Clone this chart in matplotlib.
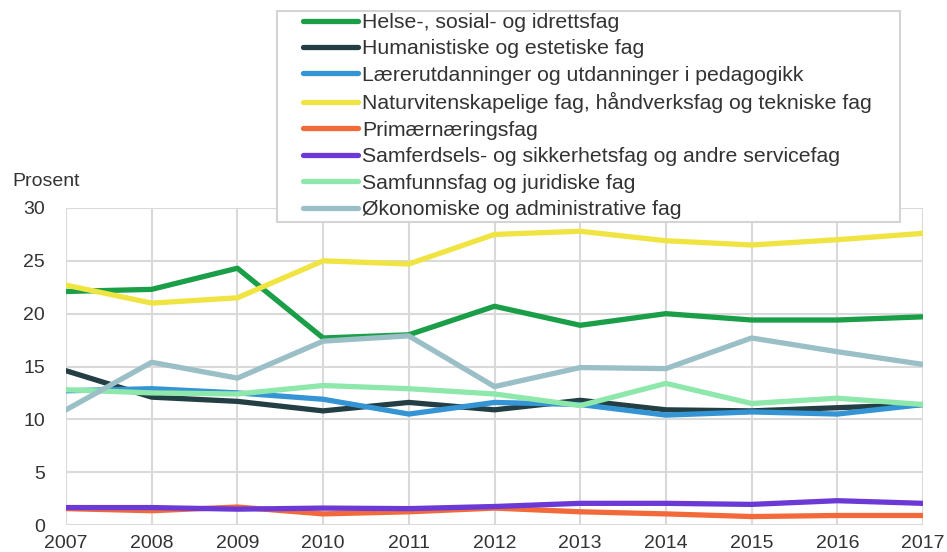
import matplotlib.pyplot as plt
from matplotlib.patches import Rectangle

plt.rcParams['font.family'] = ['Liberation Sans', 'DejaVu Sans']

years = [2007, 2008, 2009, 2010, 2011, 2012, 2013, 2014, 2015, 2016, 2017]

helse = [22.1, 22.3, 24.3, 17.7, 18.0, 20.7, 18.9, 20.0, 19.4, 19.4, 19.7]
humanistiske = [14.6, 12.1, 11.7, 10.8, 11.6, 10.9, 11.8, 10.9, 10.8, 11.1, 11.4]
laerer = [12.7, 12.9, 12.5, 11.9, 10.5, 11.6, 11.4, 10.4, 10.7, 10.5, 11.4]
naturvit = [22.7, 21.0, 21.5, 25.0, 24.7, 27.5, 27.8, 26.9, 26.5, 27.0, 27.6]
primaer = [1.55, 1.35, 1.7, 1.05, 1.25, 1.6, 1.25, 1.05, 0.8, 0.9, 0.9]
samferdsel = [1.65, 1.65, 1.5, 1.6, 1.55, 1.75, 2.05, 2.05, 1.95, 2.3, 2.05]
samfunn = [12.8, 12.5, 12.4, 13.2, 12.9, 12.4, 11.3, 13.4, 11.5, 12.0, 11.4]
okonomi = [10.9, 15.4, 13.9, 17.4, 17.9, 13.1, 14.9, 14.8, 17.7, 16.4, 15.2]

series = [
    ("Helse-, sosial- og idrettsfag", helse, "#1a9e48"),
    ("Humanistiske og estetiske fag", humanistiske, "#233f44"),
    ("Lærerutdanninger og utdanninger i pedagogikk", laerer, "#3494d4"),
    ("Naturvitenskapelige fag, håndverksfag og tekniske fag", naturvit, "#f0e442"),
    ("Primærnæringsfag", primaer, "#f26a3a"),
    ("Samferdsels- og sikkerhetsfag og andre servicefag", samferdsel, "#6b3ad6"),
    ("Samfunnsfag og juridiske fag", samfunn, "#8ee8ac"),
    ("Økonomiske og administrative fag", okonomi, "#9abfc6"),
]

W, H = 947, 552
fig = plt.figure(figsize=(W / 100, H / 100), dpi=100)
ax = fig.add_axes([66 / W, 27 / H, 857 / W, 317 / H])

for label, vals, col in series:
    ax.plot(years, vals, color=col, lw=3.8, label=label, solid_capstyle='round')

ax.set_xlim(2007, 2017)
ax.set_ylim(0, 30)
ax.set_xticks(years)
ax.set_yticks([0, 5, 10, 15, 20, 25, 30])
ax.grid(True, color="#d9d9d9", lw=1.5)
ax.set_axisbelow(True)
for s in ax.spines.values():
    s.set_visible(False)
ax.tick_params(length=0, labelsize=14, colors="#333333")
ax.tick_params(axis='x', pad=7)
ax.tick_params(axis='y', pad=15)

fig.text(12 / W, 1 - 181 / H, "Prosent", fontsize=14, color="#333333", va="center")

# legend frame drawn by hand (more padding on the left than on top)
fig.patches.append(Rectangle((277 / W, 1 - 222 / H), 623 / W, 211 / H,
                             transform=fig.transFigure, facecolor="white",
                             edgecolor="#d4d4d4", lw=1.5, zorder=3))

leg = fig.legend(loc="upper left", bbox_to_anchor=(303 / W, 1 - 13 / H),
                 fontsize=15.3, handlelength=2.6, handletextpad=0.2,
                 labelspacing=0.35, borderpad=0.0, frameon=False,
                 borderaxespad=0)
leg.set_zorder(4)
for t in leg.get_texts():
    t.set_color("#333333")

plt.savefig("out.png", dpi=100)
